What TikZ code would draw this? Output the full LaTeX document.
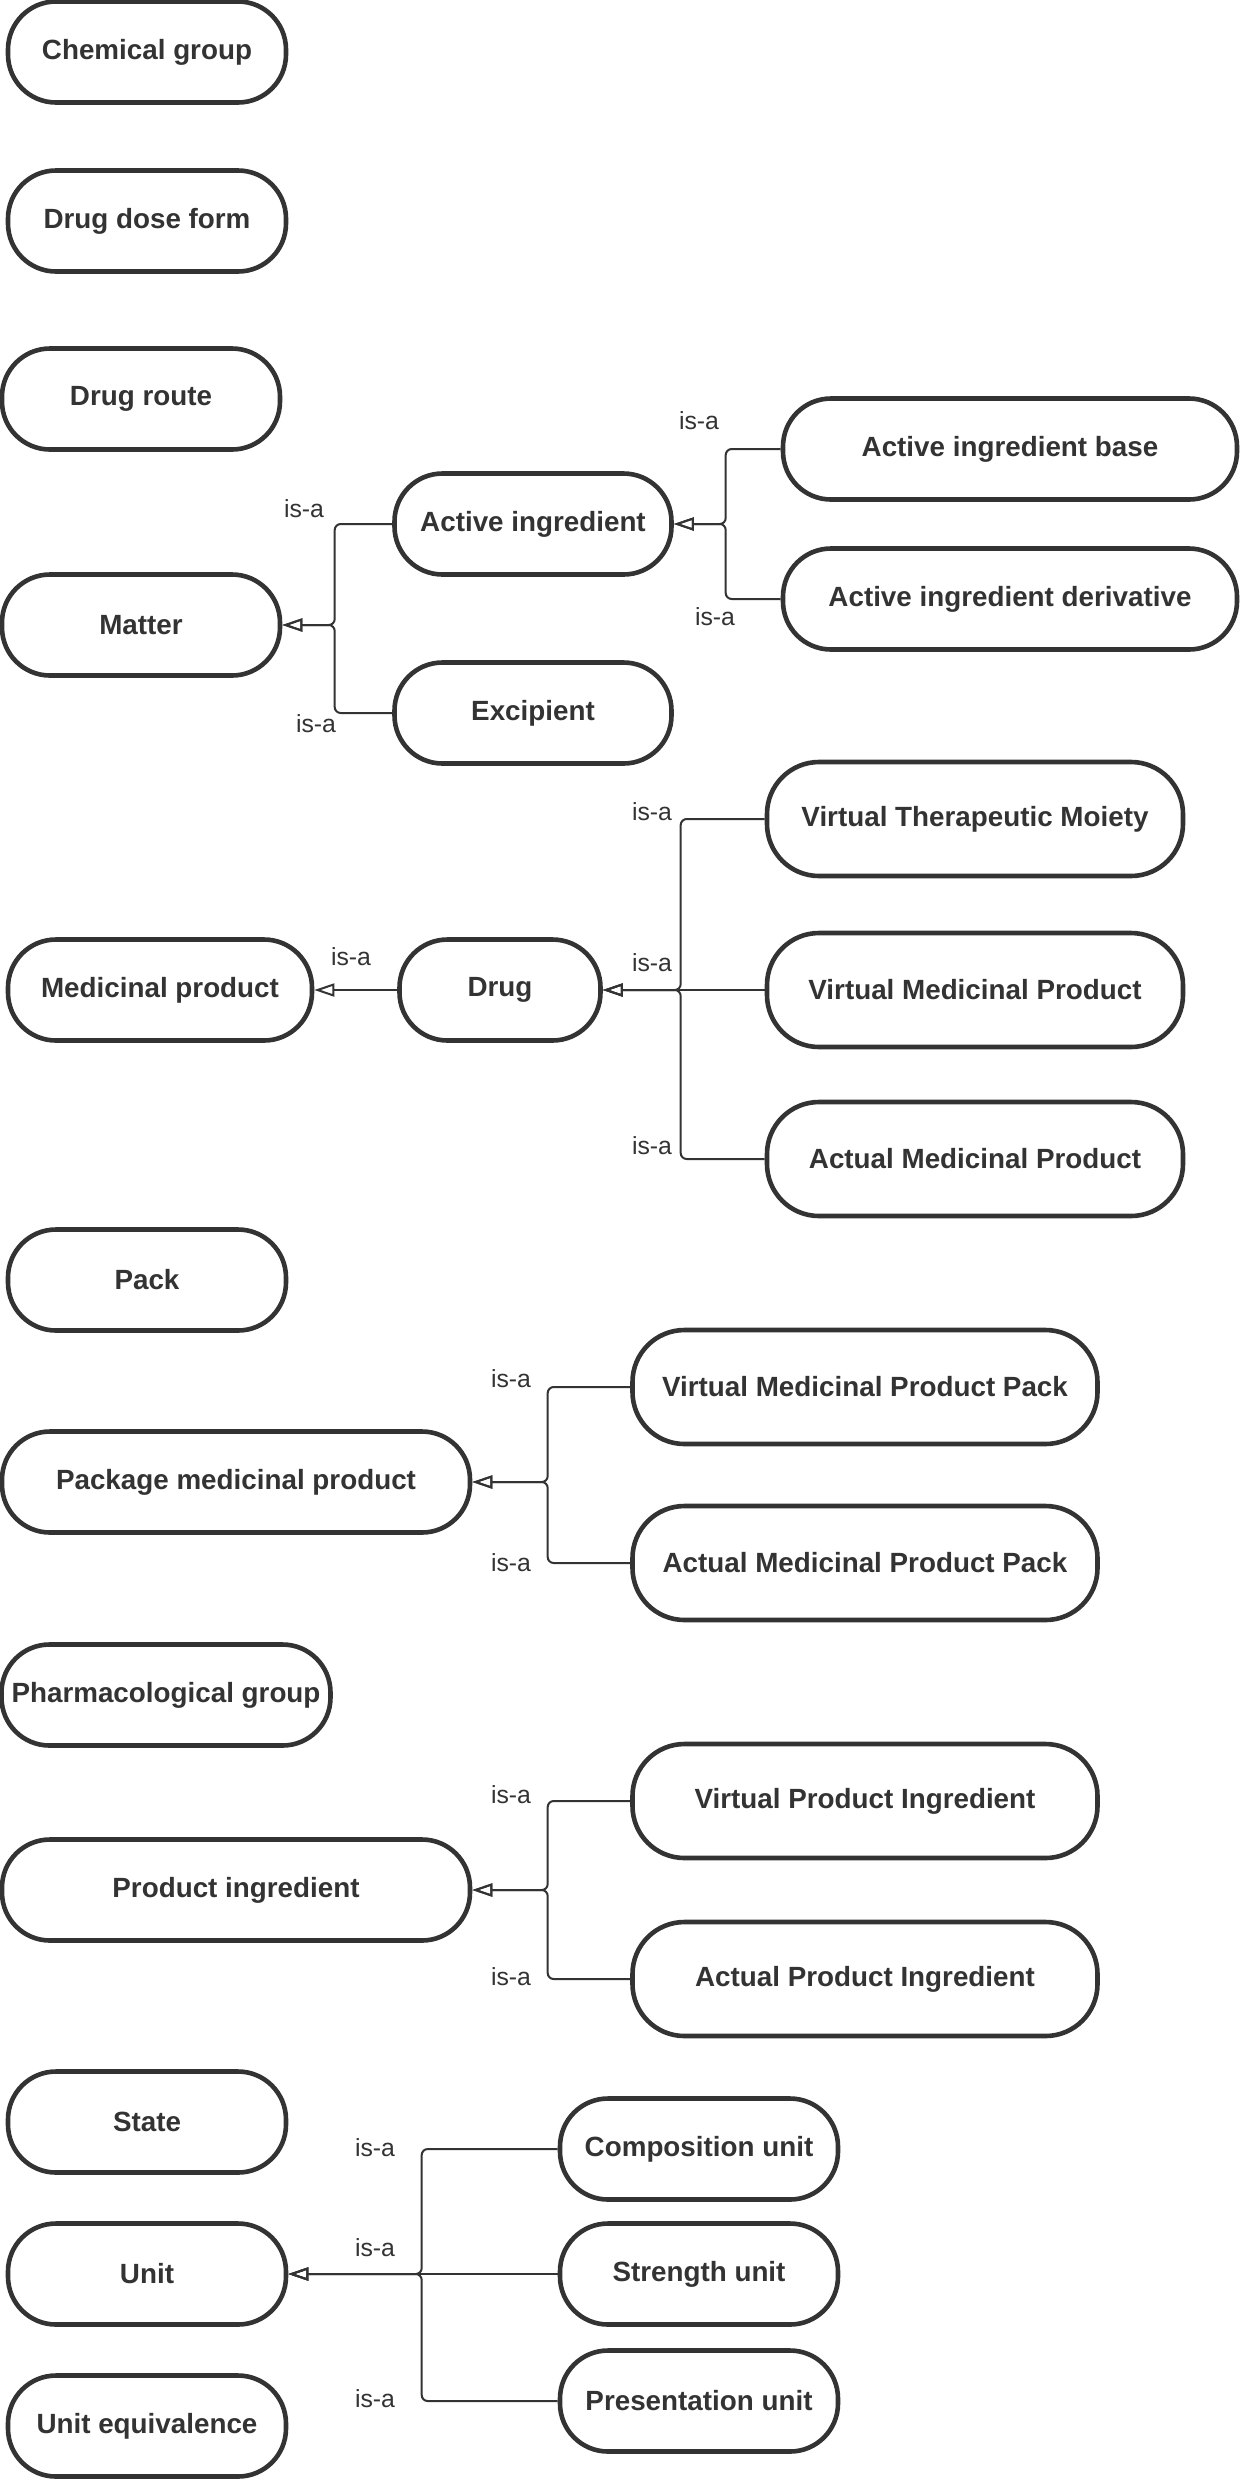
\documentclass[tikz,border=0pt]{standalone}
\usepackage{fontspec}
\setmainfont{Liberation Sans}
\usetikzlibrary{arrows.meta}
\definecolor{dunkel}{HTML}{333333}

\begin{document}
\begin{tikzpicture}[x=0.5pt, y=-0.5pt, >={Triangle[open, length=10pt, width=6.5pt]},
    % Stil für die Konzepte (abgerundete Kästen)
        konzept/.style={rectangle, rounded corners=24pt, draw=dunkel, line width=2.3pt, text=dunkel, font=\bfseries\fontsize{13.9}{16}\selectfont, inner sep=0pt, minimum width=139pt, minimum height=50.5pt},
        hoch/.style={minimum height=57pt, rounded corners=26pt},
    % Stil für die Kanten (is-a Beziehungen)
        isa/.style={->, draw=dunkel, line width=1pt, rounded corners=3pt},
        isalabel/.style={text=dunkel, font=\fontsize{12.4}{14}\selectfont, inner sep=0pt}]

        \useasboundingbox (0,0) rectangle (1240,2480);

        % Konzepte ohne Unterklassen und Wurzeln
        \node[konzept] (chem) at (147,52) {Chemical group};
        \node[konzept] (doseform) at (147,221) {Drug dose form};
        \node[konzept] (route) at (141,399) {Drug route};
        \node[konzept] (matter) at (141,625) {Matter};
        \node[konzept, minimum width=152pt] (medprod) at (160,990) {Medicinal product};
        \node[konzept] (pack) at (147,1280) {Pack};
        \node[konzept, minimum width=234pt] (pmp) at (236,1482) {Package medicinal product};
        \node[konzept, minimum width=164.5pt] (pharm) at (166,1695) {Pharmacological group};
        \node[konzept, minimum width=234pt] (prodingr) at (236,1890) {Product ingredient};
        \node[konzept] (state) at (147,2122) {State};
        \node[konzept] (unit) at (147,2274) {Unit};
        \node[konzept] (equiv) at (147,2426) {Unit equivalence};

        % Unterklassen
        \node[konzept, minimum width=138.5pt] (ai) at (533,524) {Active ingredient};
        \node[konzept, minimum width=138.5pt] (excip) at (533,713) {Excipient};
        \node[konzept, minimum width=227pt] (aibase) at (1010,449) {Active ingredient base};
        \node[konzept, minimum width=227pt] (aideriv) at (1010,599) {Active ingredient derivative};
        \node[konzept, minimum width=100.5pt] (drug) at (500,990) {Drug};
        \node[konzept, hoch, minimum width=208pt] (vtm) at (975,819) {Virtual Therapeutic Moiety};
        \node[konzept, hoch, minimum width=208pt] (vmp) at (975,990) {Virtual Medicinal Product};
        \node[konzept, hoch, minimum width=208pt] (amp) at (975,1159) {Actual Medicinal Product};
        \node[konzept, hoch, minimum width=232.5pt] (vmpp) at (865,1387) {Virtual Medicinal Product Pack};
        \node[konzept, hoch, minimum width=232.5pt] (ampp) at (865,1563) {Actual Medicinal Product Pack};
        \node[konzept, hoch, minimum width=232.5pt] (vpi) at (865,1801) {Virtual Product Ingredient};
        \node[konzept, hoch, minimum width=232.5pt] (api) at (865,1979) {Actual Product Ingredient};
        \node[konzept] (compunit) at (699,2149) {Composition unit};
        \node[konzept] (strunit) at (699,2274) {Strength unit};
        \node[konzept] (presunit) at (699,2401) {Presentation unit};

        % is-a Kanten
        \draw[isa] (ai.west) -- ++(-57.5,0) |- (matter.east);
        \draw[isa] (excip.west) -- ++(-57.5,0) |- (matter.east);
        \draw[isa] (aibase.west) -- ++(-55,0) |- (ai.east);
        \draw[isa] (aideriv.west) -- ++(-55,0) |- (ai.east);
        \draw[isa] (drug.west) -- (medprod.east);
        \draw[isa] (vtm.west) -- ++(-84,0) |- (drug.east);
        \draw[isa] (vmp.west) -- (drug.east);
        \draw[isa] (amp.west) -- ++(-84,0) |- (drug.east);
        \draw[isa] (vmpp.west) -- ++(-82.5,0) |- (pmp.east);
        \draw[isa] (ampp.west) -- ++(-82.5,0) |- (pmp.east);
        \draw[isa] (vpi.west) -- ++(-82.5,0) |- (prodingr.east);
        \draw[isa] (api.west) -- ++(-82.5,0) |- (prodingr.east);
        \draw[isa] (compunit.west) -- ++(-136,0) |- (unit.east);
        \draw[isa] (strunit.west) -- (unit.east);
        \draw[isa] (presunit.west) -- ++(-136,0) |- (unit.east);

        % Beschriftungen
        \node[isalabel] (l1) at (304,509) {is-a};
        \node[isalabel] (l2) at (316,724) {is-a};
        \node[isalabel] (l3) at (699,421) {is-a};
        \node[isalabel] (l4) at (715,617) {is-a};
        \node[isalabel] (l5) at (351,957) {is-a};
        \node[isalabel] (l6) at (652,812) {is-a};
        \node[isalabel] (l7) at (652,963) {is-a};
        \node[isalabel] (l8) at (652,1146) {is-a};
        \node[isalabel] (l9) at (511,1379) {is-a};
        \node[isalabel] (l10) at (511,1563) {is-a};
        \node[isalabel] (l11) at (511,1795) {is-a};
        \node[isalabel] (l12) at (511,1977) {is-a};
        \node[isalabel] (l13) at (375,2148) {is-a};
        \node[isalabel] (l14) at (375,2248) {is-a};
        \node[isalabel] (l15) at (375,2399) {is-a};
    \end{tikzpicture}
\end{document}
